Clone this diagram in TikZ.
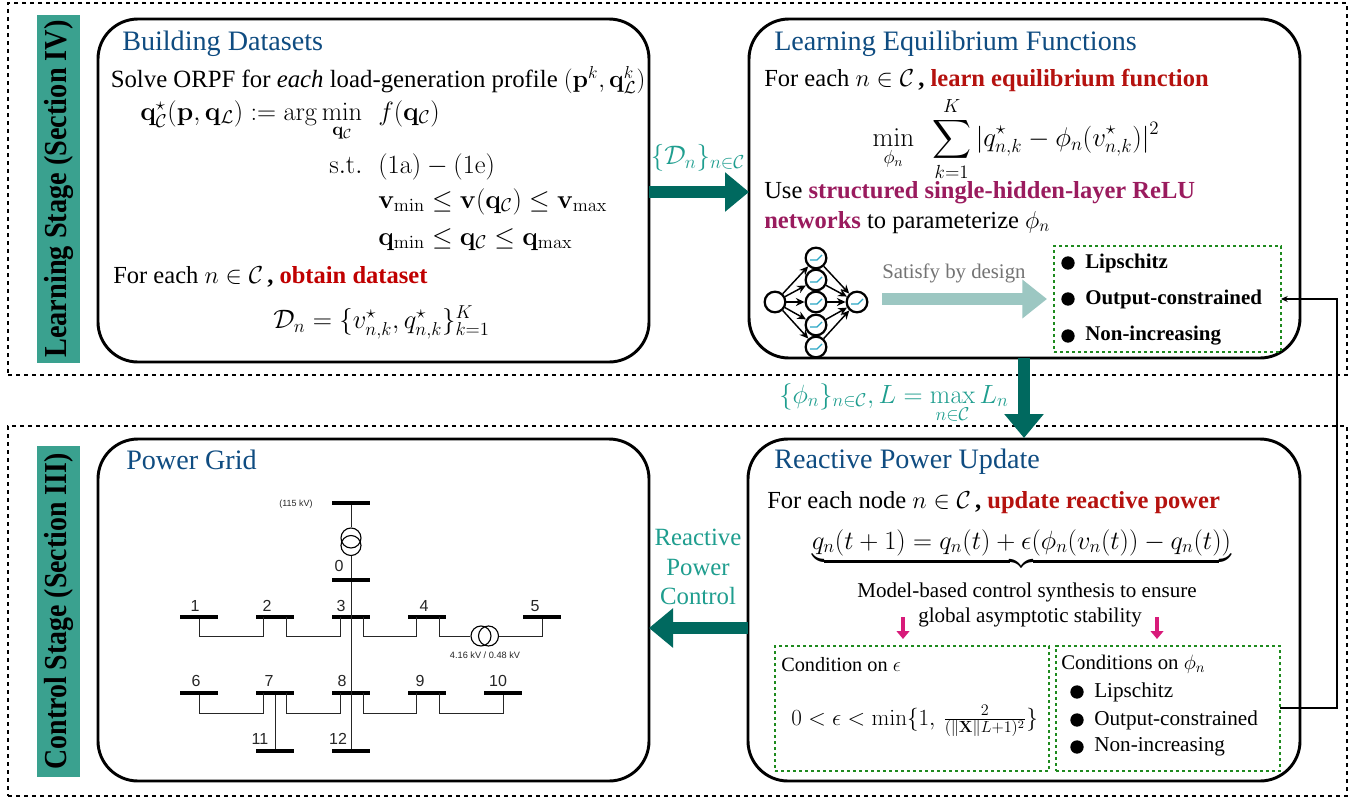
\RequirePackage{fix-cm}
\documentclass[tikz,border=0pt]{standalone}
\usepackage[no-math]{fontspec}
\usepackage{amsmath,amssymb,bm,graphicx}
\setmainfont{Liberation Serif}
\newfontfamily\gridfont{Liberation Sans}
\usetikzlibrary{calc,arrows.meta,shapes.arrows}
\definecolor{barteal}{HTML}{3AA18F}
\definecolor{darkteal}{HTML}{00695F}
\definecolor{labteal}{HTML}{1F9E8F}
\definecolor{lightteal}{HTML}{9CC7C2}
\definecolor{titleblue}{HTML}{0F4C81}
\definecolor{redb}{HTML}{B5120F}
\definecolor{redc}{HTML}{C00000}
\definecolor{purp}{HTML}{9A1B5E}
\definecolor{dgreen}{HTML}{1E8A1E}
\definecolor{pink}{HTML}{D81B7A}
\definecolor{relu}{HTML}{2AA6C6}
\newcommand{\fsz}[1]{\fontsize{#1pt}{#1pt}\selectfont}
\tikzset{
  x=0.75pt,y=-0.75pt,
  stagebox/.style={draw=black,dashed,line width=0.8pt,inner sep=0},
  bar/.style={fill=barteal,inner sep=0},
  bigbox/.style={draw=black,line width=2.2pt,rounded corners=30pt,inner sep=0,fill=white},
  condbox/.style={draw=dgreen,line width=1.1pt,dash pattern=on 2.5pt off 2pt,inner sep=0},
  ttl/.style={anchor=base west,inner sep=0,text=titleblue,font=\fsz{21.1}},
  body/.style={anchor=base west,inner sep=0,font=\fsz{18.4}},
  mth/.style={anchor=base west,inner sep=0,font=\fsz{19.8}},
  small/.style={anchor=base west,inner sep=0,font=\fsz{15.2}},
  bullet/.style={circle,fill=black,inner sep=0,minimum size=10pt},
  bigarrow/.style={-{Triangle[length=18pt,width=28.5pt]},line width=9.5pt,draw=darkteal},
  pinkarrow/.style={-{Triangle[length=6pt,width=9.5pt]},line width=3pt,draw=pink},
  busbar/.style={fill=black,inner sep=0,minimum width=28.5pt,minimum height=2.6pt},
  wire/.style={draw=black!85,line width=0.75pt},
  gl/.style={font=\gridfont\fsz{12},inner sep=0,text=black!85},
  neuron/.style={circle,draw=black,line width=1.7pt,fill=white,inner sep=0,minimum size=15.5pt},
  syn/.style={-{Stealth[length=6.5pt,width=6pt]},line width=1.1pt,draw=black},
  xfmr/.style={circle,draw=black,line width=0.85pt,inner sep=0,minimum size=15pt},
}
\newcommand{\boxat}[6]{\node[#1,outer sep=0pt,minimum width=#4*0.75pt-#2*0.75pt,minimum height=#5*0.75pt-#3*0.75pt,anchor=north west] (#6) at (#2,#3) {};}
\begin{document}
\begin{tikzpicture}
\useasboundingbox (0,0) rectangle (1366,797);
\fill[white] (0,0) rectangle (1366,797);
% stages
\boxat{stagebox}{8}{3}{1347}{375}{stageA}
\boxat{stagebox}{8}{426}{1347}{796}{stageB}
\boxat{bar}{37}{15}{80}{363}{barA}
\boxat{bar}{37}{446}{80}{777}{barB}
\node[rotate=90,font=\bfseries\fsz{24},inner sep=0] (ltxt) at (barA.center) {\scalebox{0.885}[1]{Learning Stage (Section IV)}};
\node[rotate=90,font=\bfseries\fsz{24},inner sep=0] (ctxt) at (barB.center) {\scalebox{0.87}[1]{Control Stage (Section III)}};
% main boxes
\boxat{bigbox}{98}{19}{649}{362}{build}
\boxat{bigbox}{749}{19}{1300}{358}{learn}
\boxat{bigbox}{98}{439}{649}{781}{grid}
\boxat{bigbox}{748}{439}{1300}{781}{react}
% big arrows
\coordinate (a1) at (build.east|-0,192);
\coordinate (a2) at (learn.west|-0,192);
\draw[bigarrow] (a1) -- (a2);
\coordinate (a3) at (1024,358);
\coordinate (a4) at (1024,438);
\draw[bigarrow] (a3) -- (a4);
\coordinate (a5) at (react.west|-0,628);
\coordinate (a6) at (grid.east|-0,628);
\draw[bigarrow] (a5) -- (a6);
% arrow labels
\node[inner sep=0,text=labteal,font=\fsz{20.1}] (l1) at (698,158) {$\{\mathcal{D}_n\}_{n\in\mathcal{C}}$};
\node[anchor=base,inner sep=0,text=labteal,font=\fsz{19.8}] (l2) at (894,403) {$\{\phi_n\}_{n\in\mathcal{C}},L=\max\limits_{n\in\mathcal{C}}L_n$};
\node[anchor=base,inner sep=0,text=labteal,font=\fsz{18.6},align=center] (l3a) at (698,545) {Reactive};
\node[anchor=base,inner sep=0,text=labteal,font=\fsz{18.6},align=center] (l3b) at (698,575) {Power};
\node[anchor=base,inner sep=0,text=labteal,font=\fsz{18.6},align=center] (l3c) at (698,604) {Control};
% Building datasets
\node[ttl] (t1) at (122,50) {Building Datasets};
\node[body,font=\fsz{18.6}] (b1) at (110.5,87) {Solve ORPF for \textit{each} load-generation profile $(\mathbf{p}^k,\mathbf{q}^k_{\mathcal{L}})$};
\node[mth] (b2) at (140,120) {$\mathbf{q}^\star_{\mathcal{C}}(\mathbf{p},\mathbf{q}_{\mathcal{L}}):=\arg\min\limits_{\mathbf{q}_{\mathcal{C}}}$};
\node[mth] (b3) at (378,120) {$f(\mathbf{q}_{\mathcal{C}})$};
\node[mth] (b4) at (329,173) {$\mathrm{s.t.}$};
\node[mth] (b5) at (378,173) {$(1\mathrm{a})-(1\mathrm{e})$};
\node[mth] (b6) at (378,208) {$\mathbf{v}_{\min}\leq\mathbf{v}(\mathbf{q}_{\mathcal{C}})\leq\mathbf{v}_{\max}$};
\node[mth] (b7) at (378,245) {$\mathbf{q}_{\min}\leq\mathbf{q}_{\mathcal{C}}\leq\mathbf{q}_{\max}$};
\node[body] (b8) at (113,283) {For each $n\in\mathcal{C}$\,\textbf{, \textcolor{redc}{obtain dataset}}};
\node[mth,font=\fsz{20}] (b9) at (273,328) {$\mathcal{D}_n=\{v^\star_{n,k},q^\star_{n,k}\}_{k=1}^K$};
% Learning
\node[ttl] (t2) at (774,50) {Learning Equilibrium Functions};
\node[body] (c1) at (764,86) {For each $n\in\mathcal{C}$\,\textbf{, \textcolor{redb}{learn equilibrium function}}};
\node[anchor=center,inner sep=0,font=\fsz{20.3}] (c2) at (1016,139) {$\displaystyle\min_{\phi_n}\ \ \sum_{k=1}^{K}|q^\star_{n,k}-\phi_n(v^\star_{n,k})|^2$};
\node[body] (c3) at (764,198) {Use \textbf{\textcolor{purp}{structured single-hidden-layer ReLU}}};
\node[body] (c4) at (764,228) {\textbf{\textcolor{purp}{networks}} to parameterize $\phi_n$};
% NN
\node[neuron] (in) at (775,302) {};
\foreach \n/\yy in {1/258,2/280,3/302,4/325,5/347}{
  \node[neuron] (h\n) at (816,\yy) {};
  \draw[relu,line width=1pt] ($(h\n)+(-6,2)$) -- ($(h\n)+(1,2)$) -- ($(h\n)+(6,-3)$);
}
\node[neuron] (out) at (857,302) {};
\draw[relu,line width=1pt] ($(out)+(-6,2)$) -- ($(out)+(1,2)$) -- ($(out)+(6,-3)$);
\foreach \n in {1,...,5}{
  \draw[syn] (in) -- (h\n);
  \draw[syn] (h\n) -- (out);
}
\node[anchor=base west,inner sep=0,text=black!55,font=\fsz{15.6}] (sat) at (882,278) {Satisfy by design};
\coordinate (s1) at (882,299);
\coordinate (s2) at (1047,299);
\draw[-{Triangle[length=18.5pt,width=28pt]},line width=9.5pt,draw=lightteal] (s1) -- (s2);
\boxat{condbox}{1054}{246}{1281}{352}{prop}
\foreach \n/\yy/\tx in {1/263/Lipschitz,2/299/Output-constrained,3/336/Non-increasing}{
  \node[bullet] (pb\n) at (1068,\yy) {};
  \node[anchor=west,inner sep=0,font=\bfseries\fsz{15.7}] (pt\n) at (1085,\yy) {\tx};
}
% reactive
\node[ttl] (t4) at (774,468) {Reactive Power Update};
\node[body] (d1) at (767,508) {For each node $n\in\mathcal{C}$\,\textbf{, \textcolor{redb}{update reactive power}}};
\node[anchor=base,inner sep=0,font=\fsz{19.8}] (d2) at (1021.5,549) {$\underbrace{q_n(t+1)=q_n(t)+\epsilon(\phi_n(v_n(t))-q_n(t))}$};
\node[anchor=base,inner sep=0,font=\fsz{15.8}] (d3) at (1027,597) {Model-based control synthesis to ensure};
\node[anchor=base,inner sep=0,font=\fsz{15.8}] (d4) at (1030,622) {global asymptotic stability};
\coordinate (p1) at (903,617);
\coordinate (p2) at (903,639);
\coordinate (p3) at (1157,617);
\coordinate (p4) at (1157,639);
\draw[pinkarrow] (p1) -- (p2);
\draw[pinkarrow] (p3) -- (p4);
\boxat{condbox}{775}{646}{1049}{771}{ca}
\boxat{condbox}{1056}{646}{1280}{771}{cb}
\node[small] (e1) at (781,671) {Condition on $\epsilon$};
\node[anchor=base west,inner sep=0,font=\fsz{17.3}] (e2) at (791,725) {$0<\epsilon<\min\{1,\,\frac{2}{(\|\mathbf{X}\|L+1)^2}\}$};
\node[small,font=\fsz{15.6}] (f1) at (1061,669) {Conditions on $\phi_n$};
\foreach \n/\yy/\tx in {1/692/Lipschitz,2/720/Output-constrained,3/747/Non-increasing}{
  \node[bullet] (qb\n) at (1077,\yy) {};
  \node[anchor=west,inner sep=0,font=\fsz{15.9}] (qt\n) at (1094,\yy) {\tx};
}
% feedback line
\coordinate (fb1) at (cb.east|-0,708);
\coordinate (fb2) at (1337,708);
\coordinate (fb3) at (1337,299);
\coordinate (fb4) at (prop.east|-0,299);
\draw[line width=0.8pt,-{Stealth[length=5pt,width=4.5pt]}] (fb1) -- (fb2) -- (fb3) -- (fb4);
% power grid
\node[ttl] (t3) at (126,469) {Power Grid};
\foreach \n/\xx/\yy in {t/351/503,0/351/580,1/199/617,2/275/617,3/351/617,4/427/617,5/542/617,6/199/693,7/275/693,8/351/693,9/427/693,10/503/693,11/275/751,12/351/751}{
  \node[busbar] (n\n) at (\xx,\yy) {};
}
\node[xfmr] (x1) at (351,538) {};
\node[xfmr] (x2) at (351,545.5) {};
\node[xfmr] (x3) at (481,636) {};
\node[xfmr] (x4) at (488.5,636) {};
\draw[wire] (nt) -- (x1.north);
\draw[wire] (x2.south) -- (n0);
\draw[wire] (n0) -- (n12);
\draw[wire] (n1) -- ++(0,19) -| ($(n2)+(-12,0)$);
\draw[wire] ($(n2)+(11,0)$) -- ++(0,19) -| ($(n3)+(-11,0)$);
\draw[wire] ($(n3)+(12,0)$) -- ++(0,19) -| ($(n4)+(-11,0)$);
\draw[wire] ($(n4)+(12,0)$) |- (x3.west);
\draw[wire] (n5) |- (x4.east);
\draw[wire] (n6) -- ++(0,20) -| ($(n7)+(-12,0)$);
\draw[wire] ($(n7)+(11,0)$) -- ++(0,20) -| ($(n8)+(-11,0)$);
\draw[wire] ($(n8)+(12,0)$) -- ++(0,20) -| ($(n9)+(-11,0)$);
\draw[wire] ($(n9)+(12,0)$) -- ++(0,20) -| (n10);
\draw[wire] (n7) -- (n11);
\foreach \n/\xx/\yy/\tx in {0/339/566/0,1/195/606/1,2/267/606/2,3/341/606/3,4/424/606/4,5/535/606/5,6/196/681/6,7/269/681/7,8/342/681/8,9/420/681/9,10/498/681/10,11/260/739/11,12/338/739/12}{
  \node[gl] (lab\n) at (\xx,\yy) {\tx};
}
\node[gl,font=\gridfont\fsz{6.7}] (kv1) at (296,504) {(115 kV)};
\node[gl,font=\gridfont\fsz{6.9}] (kv2) at (485,655) {4.16 kV / 0.48 kV};
\end{tikzpicture}
\end{document}
